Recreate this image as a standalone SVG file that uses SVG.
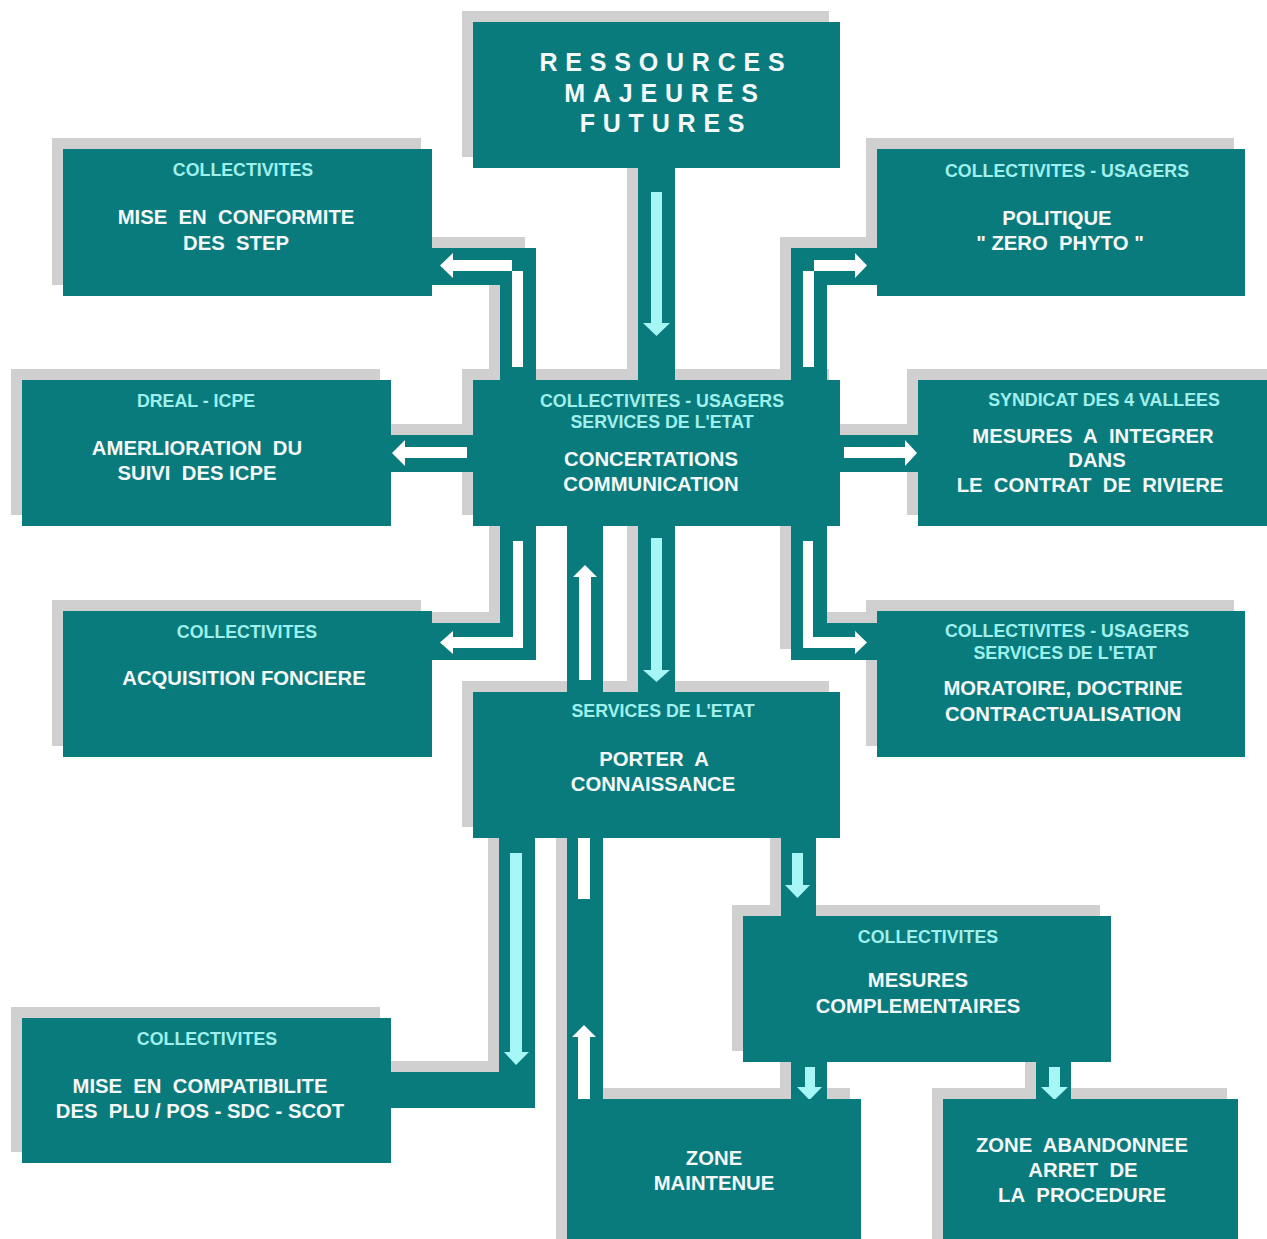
<svg xmlns="http://www.w3.org/2000/svg" width="1267" height="1239" viewBox="0 0 1267 1239">
<style>
.sh{fill:#d0d0d0}
.bx{fill:#0a7b7d}
.band{fill:#0a7b7d}
.wa{fill:#ffffff}
.ca{fill:#a6f6f6}
text{font-family:"Liberation Sans",Arial,sans-serif;font-weight:bold;text-anchor:middle}
.hd{font-size:17.8px;fill:#9ff0ec}
.mt{font-size:20.3px;fill:#f4f8f8}
.big{font-size:25px;fill:#f4f8f8;letter-spacing:7.8px}
</style>
<rect width="1267" height="1239" fill="#ffffff"/>
<g id="shadows">
<rect class="sh" x="462" y="11" width="367" height="146"/>
<rect class="sh" x="52" y="138" width="369" height="147"/>
<rect class="sh" x="866" y="138" width="368" height="147"/>
<rect class="sh" x="11" y="369" width="369" height="146"/>
<rect class="sh" x="462" y="369" width="367" height="146"/>
<rect class="sh" x="907" y="369" width="360" height="146"/>
<rect class="sh" x="52" y="600" width="369" height="146"/>
<rect class="sh" x="866" y="600" width="368" height="146"/>
<rect class="sh" x="462" y="681" width="367" height="146"/>
<rect class="sh" x="732" y="905" width="368" height="146"/>
<rect class="sh" x="11" y="1007" width="369" height="145"/>
<rect class="sh" x="556" y="1088" width="294" height="151"/>
<rect class="sh" x="932" y="1088" width="295" height="151"/>
<rect class="sh" x="627" y="157" width="37" height="212"/>
<rect class="sh" x="421" y="237" width="104" height="37"/>
<rect class="sh" x="489" y="237" width="36" height="132"/>
<rect class="sh" x="780" y="237" width="86" height="37"/>
<rect class="sh" x="780" y="237" width="36" height="132"/>
<rect class="sh" x="380" y="424" width="82" height="37"/>
<rect class="sh" x="829" y="424" width="78" height="37"/>
<rect class="sh" x="489" y="515" width="36" height="134"/>
<rect class="sh" x="421" y="612" width="104" height="37"/>
<rect class="sh" x="627" y="515" width="37" height="166"/>
<rect class="sh" x="780" y="515" width="36" height="134"/>
<rect class="sh" x="780" y="612" width="86" height="37"/>
<rect class="sh" x="488" y="827" width="36" height="270"/>
<rect class="sh" x="380" y="1061" width="144" height="36"/>
<rect class="sh" x="556" y="827" width="36" height="261"/>
<rect class="sh" x="770" y="827" width="35" height="78"/>
<rect class="sh" x="780" y="1051" width="36" height="37"/>
<rect class="sh" x="1025" y="1051" width="35" height="37"/>
</g>
<g id="connectors">
<rect class="band" x="638" y="168" width="37" height="212"/>
<rect class="band" x="432" y="248" width="104" height="37"/>
<rect class="band" x="500" y="248" width="36" height="132"/>
<rect class="band" x="791" y="248" width="86" height="37"/>
<rect class="band" x="791" y="248" width="36" height="132"/>
<rect class="band" x="391" y="435" width="82" height="37"/>
<rect class="band" x="840" y="435" width="78" height="37"/>
<rect class="band" x="500" y="526" width="36" height="134"/>
<rect class="band" x="432" y="623" width="104" height="37"/>
<rect class="band" x="567" y="526" width="36" height="166"/>
<rect class="band" x="638" y="526" width="37" height="166"/>
<rect class="band" x="791" y="526" width="36" height="134"/>
<rect class="band" x="791" y="623" width="86" height="37"/>
<rect class="band" x="499" y="838" width="36" height="270"/>
<rect class="band" x="391" y="1072" width="144" height="36"/>
<rect class="band" x="567" y="838" width="36" height="261"/>
<rect class="band" x="781" y="838" width="35" height="78"/>
<rect class="band" x="791" y="1062" width="36" height="37"/>
<rect class="band" x="1036" y="1062" width="35" height="37"/>
<rect class="ca" x="651" y="192" width="11" height="131"/>
<polygon class="ca" points="643,323 670,323 656.5,336"/>
<path class="wa" d="M512,367 V260 H453 V253 L440,265.5 L453,278 V271 H523 V367 Z"/>
<path class="wa" d="M814,367 V260 H855 V253 L867,265.5 L855,278 V271 H803 V367 Z"/>
<path class="wa" d="M467,447 H405 V440 L392,453 L405,466 V458 H467 Z"/>
<path class="wa" d="M844,447 H905 V440 L917,453 L905,466 V458 H844 Z"/>
<path class="wa" d="M513,541 V637 H453 V631 L440,642.5 L453,654 V648 H523 V541 Z"/>
<path class="wa" d="M579,680 V577 H573 L585,565 L597,577 H591 V680 Z"/>
<rect class="ca" x="651" y="538" width="11" height="132"/>
<polygon class="ca" points="643,670 670,670 656.5,682"/>
<path class="wa" d="M813,541 V637 H855 V631 L867,642.5 L855,654 V648 H803 V541 Z"/>
<rect class="ca" x="510" y="853" width="12" height="199"/>
<polygon class="ca" points="504,1052 529,1052 516,1065"/>
<path class="wa" d="M578,1099 V1037 H572 L584,1025 L596,1037 H590 V1099 Z"/>
<rect class="wa" x="578" y="838" width="12" height="61"/>
<rect class="ca" x="792" y="853" width="11" height="32"/>
<polygon class="ca" points="785,885 810,885 797.5,898"/>
<rect class="ca" x="805" y="1067" width="10" height="20"/>
<polygon class="ca" points="797,1087 822,1087 809.5,1100"/>
<rect class="ca" x="1049" y="1067" width="11" height="20"/>
<polygon class="ca" points="1041,1087 1068,1087 1054.5,1100"/>
</g>
<g id="n-ressources">
<rect class="bx" x="473" y="22" width="367" height="146"/>
<text class="big" x="666" y="71">RESSOURCES</text>
<text class="big" x="665" y="102">MAJEURES</text>
<text class="big" x="666" y="132">FUTURES</text>
</g>
<g id="n-step">
<rect class="bx" x="63" y="149" width="369" height="147"/>
<text class="hd" x="243" y="176">COLLECTIVITES</text>
<text class="mt" x="236" y="224">MISE&#160; EN&#160; CONFORMITE</text>
<text class="mt" x="236" y="250">DES&#160; STEP</text>
</g>
<g id="n-phyto">
<rect class="bx" x="877" y="149" width="368" height="147"/>
<text class="hd" x="1067" y="177">COLLECTIVITES - USAGERS</text>
<text class="mt" x="1057" y="225">POLITIQUE</text>
<text class="mt" x="1060" y="250">" ZERO&#160; PHYTO "</text>
</g>
<g id="n-icpe">
<rect class="bx" x="22" y="380" width="369" height="146"/>
<text class="hd" x="196" y="407">DREAL - ICPE</text>
<text class="mt" x="197" y="455">AMERLIORATION&#160; DU</text>
<text class="mt" x="197" y="480">SUIVI&#160; DES ICPE</text>
</g>
<g id="n-concertations">
<rect class="bx" x="473" y="380" width="367" height="146"/>
<text class="hd" x="662" y="407">COLLECTIVITES - USAGERS</text>
<text class="hd" x="662" y="428">SERVICES DE L'ETAT</text>
<text class="mt" x="651" y="466">CONCERTATIONS</text>
<text class="mt" x="651" y="491">COMMUNICATION</text>
</g>
<g id="n-syndicat">
<rect class="bx" x="918" y="380" width="349" height="146"/>
<text class="hd" x="1104" y="406">SYNDICAT DES 4 VALLEES</text>
<text class="mt" x="1093" y="443">MESURES&#160; A&#160; INTEGRER</text>
<text class="mt" x="1097" y="467">DANS</text>
<text class="mt" x="1090" y="492">LE&#160; CONTRAT&#160; DE&#160; RIVIERE</text>
</g>
<g id="n-fonciere">
<rect class="bx" x="63" y="611" width="369" height="146"/>
<text class="hd" x="247" y="638">COLLECTIVITES</text>
<text class="mt" x="244" y="685">ACQUISITION FONCIERE</text>
</g>
<g id="n-moratoire">
<rect class="bx" x="877" y="611" width="368" height="146"/>
<text class="hd" x="1067" y="637">COLLECTIVITES - USAGERS</text>
<text class="hd" x="1065" y="659">SERVICES DE L'ETAT</text>
<text class="mt" x="1063" y="695">MORATOIRE, DOCTRINE</text>
<text class="mt" x="1063" y="721">CONTRACTUALISATION</text>
</g>
<g id="n-porter">
<rect class="bx" x="473" y="692" width="367" height="146"/>
<text class="hd" x="663" y="717">SERVICES DE L'ETAT</text>
<text class="mt" x="654" y="766">PORTER&#160; A</text>
<text class="mt" x="653" y="791">CONNAISSANCE</text>
</g>
<g id="n-complementaires">
<rect class="bx" x="743" y="916" width="368" height="146"/>
<text class="hd" x="928" y="943">COLLECTIVITES</text>
<text class="mt" x="918" y="987">MESURES</text>
<text class="mt" x="918" y="1013">COMPLEMENTAIRES</text>
</g>
<g id="n-compatibilite">
<rect class="bx" x="22" y="1018" width="369" height="145"/>
<text class="hd" x="207" y="1045">COLLECTIVITES</text>
<text class="mt" x="200" y="1093">MISE&#160; EN&#160; COMPATIBILITE</text>
<text class="mt" x="200" y="1118">DES&#160; PLU / POS - SDC - SCOT</text>
</g>
<g id="n-maintenue">
<rect class="bx" x="567" y="1099" width="294" height="140"/>
<text class="mt" x="714" y="1165">ZONE</text>
<text class="mt" x="714" y="1190">MAINTENUE</text>
</g>
<g id="n-abandonnee">
<rect class="bx" x="943" y="1099" width="295" height="140"/>
<text class="mt" x="1082" y="1152">ZONE&#160; ABANDONNEE</text>
<text class="mt" x="1083" y="1177">ARRET&#160; DE</text>
<text class="mt" x="1082" y="1202">LA&#160; PROCEDURE</text>
</g>
</svg>
